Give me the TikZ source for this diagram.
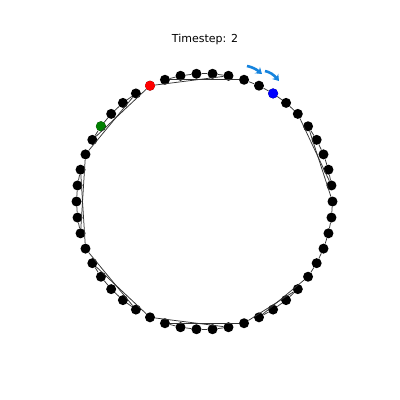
\documentclass[tikz,border=0pt]{standalone}
\usepackage{fontspec}
\setmainfont{DejaVu Sans}
\usetikzlibrary{arrows.meta}
\definecolor{dotred}{RGB}{255,0,0}
\definecolor{dotblue}{RGB}{0,0,255}
\definecolor{dotgreen}{RGB}{0,128,0}
\definecolor{arrowblue}{RGB}{22,132,222}
\begin{document}
\begin{tikzpicture}[x=1pt,y=-1pt,
  dot/.style={circle,fill=black,inner sep=0pt,minimum size=10pt},
  tour/.style={draw=black!80,line width=0.75pt},
  flowarrow/.style={draw=arrowblue,line width=2.6pt,-{Stealth[length=6pt,width=8pt]}}]
\useasboundingbox (0,0) rectangle (400,400);
\node[font=\fontsize{11}{13}\selectfont] (title) at (205,39) {Timestep: 2};
\foreach \k in {0,...,49}{
  \node[dot] (d\k) at ({204.5+128*cos(7.2*\k)},{201.5-128*sin(7.2*\k)}) {};
}
\node[dot,fill=dotred] at (d16) {};
\node[dot,fill=dotblue] at (d8) {};
\node[dot,fill=dotgreen] at (d20) {};
\foreach \a/\b in {0/5,5/4,4/3,3/2,2/1,1/6,6/7,7/8,8/9,9/10,10/15,15/14,14/13,13/12,12/11,11/16,16/21,21/20,20/19,19/18,18/17,17/22,22/27,27/26,26/25,25/24,24/23,23/28,28/33,33/32,32/31,31/30,30/29,29/34,34/39,39/38,38/37,37/36,36/35,35/40,40/44,44/43,43/42,42/41,41/45,45/46,46/47,47/48,48/49,49/0}{
  \draw[tour] (d\a) -- (d\b);
}
\coordinate (a1s) at (247,66);
\coordinate (a1e) at (262,74);
\coordinate (a2s) at (265,71);
\coordinate (a2e) at (279,81);
\draw[flowarrow] (a1s) .. controls (252,67) and (256,69) .. (a1e);
\draw[flowarrow] (a2s) .. controls (270,72) and (274,75) .. (a2e);
\end{tikzpicture}
\end{document}
